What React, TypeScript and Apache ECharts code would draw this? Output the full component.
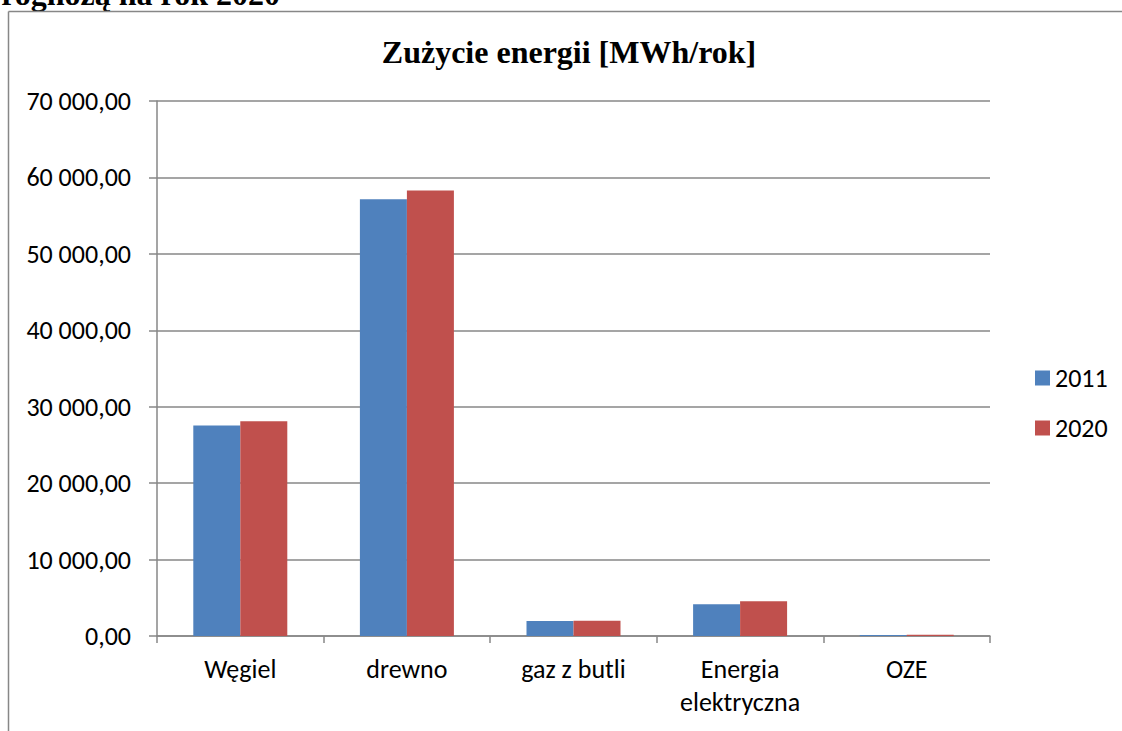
import React, { useEffect, useRef } from "react";
import * as echarts from "echarts";

const categories = ["Węgiel", "drewno", "gaz z butli", "Energia\nelektryczna", "OZE"];
const seriesNames = ["2011", "2020"];
const values2011 = [27540, 57150, 1960, 4150, 120];
const values2020 = [28100, 58300, 2000, 4540, 150];
const yTicks = { min: 0, max: 70000, interval: 10000 };
const titleText = "Zużycie energii [MWh/rok]";
const headerText = "Prognozą na rok 2020";

const SANS = "Carlito, Calibri, 'Open Sans', sans-serif";
const SERIF = "'Liberation Serif', 'Times New Roman', serif";

function fmt(v: number): string {
  const fixed = v.toFixed(2);
  const [intPart, dec] = fixed.split(".");
  const withSpaces = intPart.replace(/\B(?=(\d{3})+(?!\d))/g, " ");
  return withSpaces + "," + dec;
}

export default function App() {
  const ref = useRef<HTMLDivElement>(null);
  useEffect(() => {
    if (!ref.current) return;
    const chart = echarts.init(ref.current, undefined, { renderer: "svg" });
    const gridColor = "#878787";
    chart.setOption({
      animation: false,
      backgroundColor: "#ffffff",
      title: {
        text: titleText,
        left: 564,
        top: 31,
        textAlign: "center",
        textStyle: { fontFamily: SERIF, fontWeight: "bold", fontSize: 32, color: "#000" },
      },
      graphic: [
        {
          type: "text",
          x: 280,
          y: -6,
          style: {
            text: headerText,
            font: "bold 32px 'Liberation Serif', 'Times New Roman', serif",
            fill: "#000",
            align: "right",
            verticalAlign: "middle",
          },
        },
        {
          type: "line",
          shape: { x1: 8.5, y1: 11.5, x2: 1122, y2: 11.5 },
          style: { stroke: gridColor, lineWidth: 1.5 },
        },
        {
          type: "line",
          shape: { x1: 8.5, y1: 11.5, x2: 8.5, y2: 731 },
          style: { stroke: gridColor, lineWidth: 1.5 },
        },
      ],
      legend: {
        orient: "vertical",
        left: 1030,
        top: 360,
        itemWidth: 15,
        itemHeight: 15,
        itemGap: 24,
        icon: "rect",
        data: seriesNames,
        textStyle: { fontFamily: SANS, fontSize: 26, color: "#000", lineHeight: 25 },
      },
      grid: { left: 157, right: 132, top: 101, bottom: 95, containLabel: false },
      xAxis: {
        type: "category",
        data: categories,
        axisLine: { show: true, lineStyle: { color: gridColor, width: 1.5 } },
        axisTick: { show: true, length: 7, lineStyle: { color: gridColor, width: 1.5 } },
        axisLabel: { fontFamily: SANS, fontSize: 26, color: "#000", margin: 16, lineHeight: 33, interval: 0 },
      },
      yAxis: {
        type: "value",
        min: yTicks.min,
        max: yTicks.max,
        interval: yTicks.interval,
        axisLine: { show: true, lineStyle: { color: gridColor, width: 1.5 } },
        axisTick: { show: true, length: 8, lineStyle: { color: gridColor, width: 1.5 } },
        splitLine: { show: true, lineStyle: { color: gridColor, width: 1.5 } },
        axisLabel: { fontFamily: SANS, fontSize: 26, color: "#000", margin: 26, formatter: (v: number) => fmt(v) },
      },
      series: [
        {
          name: seriesNames[0],
          type: "bar",
          data: values2011,
          barWidth: 47,
          barGap: "0%",
          itemStyle: { color: "#4F81BD" },
        },
        {
          name: seriesNames[1],
          type: "bar",
          data: values2020,
          barWidth: 47,
          barGap: "0%",
          itemStyle: { color: "#C0504D" },
        },
      ],
    });
    return () => chart.dispose();
  }, []);
  return (
    <div
      ref={ref}
      style={{ position: "fixed", left: 0, top: 0, width: 1122, height: 731 }}
    />
  );
}
